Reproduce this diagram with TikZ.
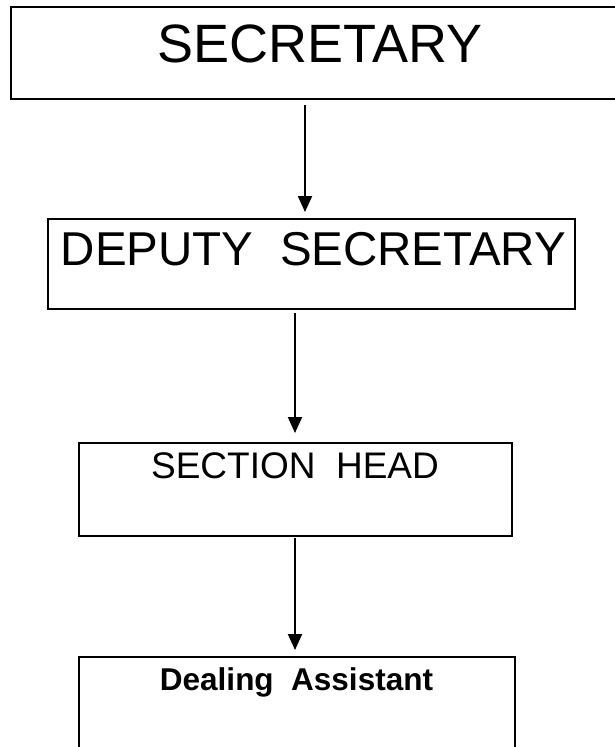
\documentclass[tikz,border=0pt]{standalone}
\usepackage{fontspec}
\setmainfont{Liberation Sans}
\usetikzlibrary{arrows.meta}
\begin{document}
\begin{tikzpicture}[x=1pt,y=-1pt,
  box/.style={draw=black, line width=2pt, inner sep=0pt, fill=white},
  arr/.style={draw=black, line width=2pt, -{Triangle[length=16pt,width=14pt]}},
  lbl/.style={anchor=base, inner sep=0pt}]
\useasboundingbox (0,0) rectangle (615,747);
\fill[white] (0,0) rectangle (615,747);
% boxes
\node[box, minimum width=629pt, minimum height=92pt] (b1) at (325.5,53) {};
\node[box, minimum width=527pt, minimum height=90pt] (b2) at (311.5,264) {};
\node[box, minimum width=433pt, minimum height=93pt] (b3) at (295.5,489.5) {};
\node[box, minimum width=436pt, minimum height=103pt] (b4) at (297,708.5) {};
% texts
\node[lbl] (t1) at (320,62) {\fontsize{54}{58}\selectfont SECRETARY};
\node[lbl] (t2) at (313.5,265) {\fontsize{47.5}{50}\selectfont DEPUTY\ \ SECRETARY};
\node[lbl] (t3) at (295,478) {\fontsize{37}{40}\selectfont SECTION\ \ HEAD};
\node[lbl] (t4) at (296.5,690) {\fontsize{31.5}{34}\selectfont\bfseries Dealing\ \ Assistant};
% arrow endpoints
\coordinate (a1s) at (305,105);
\coordinate (a1e) at (305,212);
\coordinate (a2s) at (295,313);
\coordinate (a2e) at (295,433);
\coordinate (a3s) at (295,538);
\coordinate (a3e) at (295,650);
\draw[arr] (a1s) -- (a1e);
\draw[arr] (a2s) -- (a2e);
\draw[arr] (a3s) -- (a3e);
\end{tikzpicture}
\end{document}
